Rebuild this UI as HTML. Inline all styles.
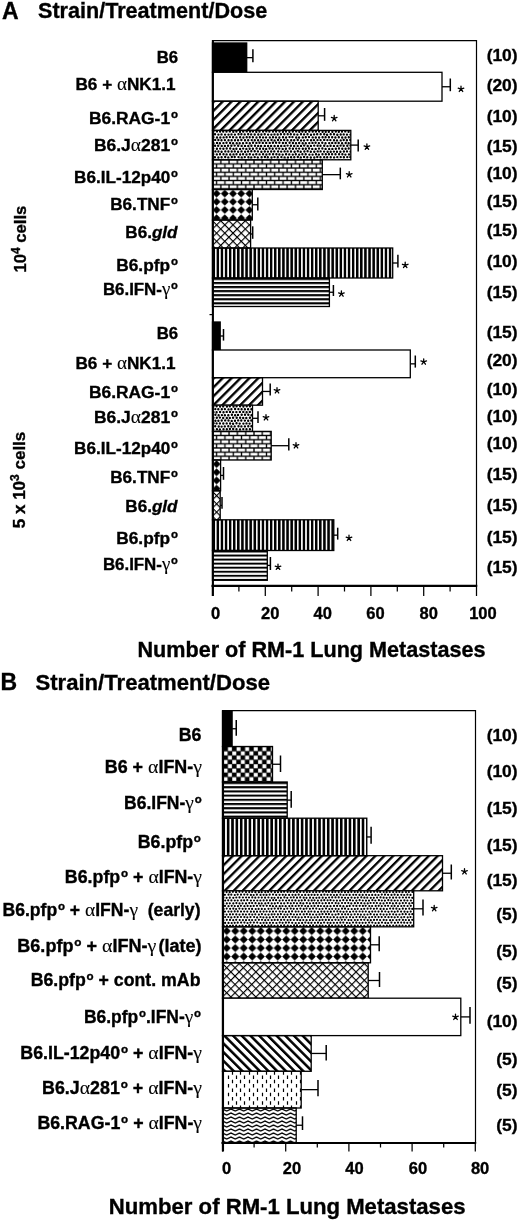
<!DOCTYPE html>
<html><head><meta charset="utf-8"><style>
html,body{margin:0;padding:0;background:#fff;}
svg{display:block;will-change:transform;}
text{font-family:"Liberation Sans",sans-serif;font-weight:bold;fill:#000;stroke:#000;stroke-width:0.35px;}
.lab{font-size:17.4px;}
.t{font-size:16.5px;}
.big{font-size:23px;}
.ttl{font-size:21.6px;}
.xl{font-size:20.2px;}
.sup{font-size:11.5px;}
.gr{font-family:"Liberation Serif",serif;font-weight:normal;font-size:19.5px;stroke-width:0.1px;}
</style></head><body>
<svg width="520" height="1220" viewBox="0 0 520 1220">
<defs><pattern id="p1" patternUnits="userSpaceOnUse" width="6.3" height="6.3" patternTransform="translate(212.50,101.20) rotate(45)"><rect width="2.35" height="6.3" fill="#000"/></pattern><clipPath id="c3"><rect x="212.5" y="130.4" width="138.30" height="29.40"/></clipPath><pattern id="p4" patternUnits="userSpaceOnUse" x="212.50" y="159.80" width="8.3" height="8.3"><rect width="8.3" height="8.3" fill="#000"/><rect x="0.65" y="0.65" width="7.0" height="2.8" fill="#fff"/><rect x="-3.5" y="4.8" width="7.0" height="2.8" fill="#fff"/><rect x="4.8" y="4.8" width="7.0" height="2.8" fill="#fff"/></pattern><pattern id="p5" patternUnits="userSpaceOnUse" x="212.50" y="189.50" width="8.2" height="8.2"><polygon points="4.1,0.15 8.049999999999999,4.1 4.1,8.049999999999999 0.15,4.1" fill="#000"/></pattern><pattern id="p6" patternUnits="userSpaceOnUse" width="5.8" height="5.8" patternTransform="translate(212.50,220.00) rotate(45)"><rect width="1.15" height="5.8" fill="#000"/><rect width="5.8" height="1.15" fill="#000"/></pattern><pattern id="p7" patternUnits="userSpaceOnUse" x="212.50" y="0" width="4.1" height="10"><rect width="2.5" height="10" fill="#000"/></pattern><pattern id="p8" patternUnits="userSpaceOnUse" x="0" y="278.00" width="10" height="4.05"><rect width="10" height="2.0" fill="#000"/></pattern><pattern id="p9" patternUnits="userSpaceOnUse" width="6.3" height="6.3" patternTransform="translate(212.50,377.70) rotate(45)"><rect width="2.35" height="6.3" fill="#000"/></pattern><clipPath id="c11"><rect x="212.5" y="405.2" width="40.00" height="26.20"/></clipPath><pattern id="p12" patternUnits="userSpaceOnUse" x="212.50" y="431.40" width="8.3" height="8.3"><rect width="8.3" height="8.3" fill="#000"/><rect x="0.65" y="0.65" width="7.0" height="2.8" fill="#fff"/><rect x="-3.5" y="4.8" width="7.0" height="2.8" fill="#fff"/><rect x="4.8" y="4.8" width="7.0" height="2.8" fill="#fff"/></pattern><pattern id="p13" patternUnits="userSpaceOnUse" x="212.50" y="460.00" width="8.2" height="8.2"><polygon points="4.1,0.15 8.049999999999999,4.1 4.1,8.049999999999999 0.15,4.1" fill="#000"/></pattern><pattern id="p14" patternUnits="userSpaceOnUse" width="5.8" height="5.8" patternTransform="translate(212.50,490.80) rotate(45)"><rect width="1.15" height="5.8" fill="#000"/><rect width="5.8" height="1.15" fill="#000"/></pattern><pattern id="p15" patternUnits="userSpaceOnUse" x="212.50" y="0" width="4.1" height="10"><rect width="2.5" height="10" fill="#000"/></pattern><pattern id="p16" patternUnits="userSpaceOnUse" x="0" y="550.50" width="10" height="4.05"><rect width="10" height="2.0" fill="#000"/></pattern><pattern id="p17" patternUnits="userSpaceOnUse" x="223.50" y="746.90" width="8.6" height="8.6"><rect width="8.6" height="8.6" fill="#000"/><rect x="4.47" y="0.17" width="3.95" height="3.95" fill="#fff"/><rect x="0.17" y="4.47" width="3.95" height="3.95" fill="#fff"/></pattern><pattern id="p18" patternUnits="userSpaceOnUse" x="0" y="782.00" width="10" height="4.2"><rect width="10" height="2.05" fill="#000"/></pattern><pattern id="p19" patternUnits="userSpaceOnUse" x="222.50" y="0" width="4.35" height="10"><rect width="2.6" height="10" fill="#000"/></pattern><pattern id="p20" patternUnits="userSpaceOnUse" width="6.3" height="6.3" patternTransform="translate(222.50,855.70) rotate(45)"><rect width="2.3" height="6.3" fill="#000"/></pattern><clipPath id="c22"><rect x="222.5" y="890.8" width="191.20" height="36.00"/></clipPath><pattern id="p23" patternUnits="userSpaceOnUse" x="222.50" y="926.80" width="8.5" height="8.5"><polygon points="4.25,0.15 8.35,4.25 4.25,8.35 0.15,4.25" fill="#000"/></pattern><pattern id="p24" patternUnits="userSpaceOnUse" width="5.9" height="5.9" patternTransform="translate(222.50,962.80) rotate(45)"><rect width="1.15" height="5.9" fill="#000"/><rect width="5.9" height="1.15" fill="#000"/></pattern><pattern id="p25" patternUnits="userSpaceOnUse" width="6.15" height="6.15" patternTransform="translate(222.50,1035.60) rotate(-45)"><rect width="2.5" height="6.15" fill="#000"/></pattern><clipPath id="c27"><rect x="222.5" y="1071.3" width="78.70" height="36.70"/></clipPath><pattern id="p28" patternUnits="userSpaceOnUse" x="222.50" y="1108.00" width="8.5" height="4.0"><polyline points="-2.125,3.0 0,1.0 4.25,3.0 8.5,1.0 10.625,2.0" fill="none" stroke="#000" stroke-width="1.3"/></pattern></defs>
<rect width="520" height="1220" fill="#fff"/>
<polyline points="212.5,40.6 476.5,40.6 476.5,585.7" fill="none" stroke="#000" stroke-width="1.2"/>
<rect x="212.5" y="43" width="34.20" height="29.30" fill="#000"/>
<rect x="212.5" y="43" width="34.20" height="29.30" fill="none" stroke="#000" stroke-width="1.3"/>
<line x1="246.7" y1="57.65" x2="252.9" y2="57.65" stroke="#000" stroke-width="1.3"/>
<line x1="252.9" y1="49.2" x2="252.9" y2="62.3" stroke="#000" stroke-width="1.5"/>
<rect x="212.5" y="72.3" width="229.50" height="28.90" fill="#fff"/>
<rect x="212.5" y="72.3" width="229.50" height="28.90" fill="none" stroke="#000" stroke-width="1.3"/>
<line x1="442" y1="86.75" x2="450.3" y2="86.75" stroke="#000" stroke-width="1.3"/>
<line x1="450.3" y1="78.5" x2="450.3" y2="91.2" stroke="#000" stroke-width="1.5"/>
<path d="M461.00,89.10L461.00,86.15M461.00,89.10L463.81,88.19M461.00,89.10L462.73,91.49M461.00,89.10L459.27,91.49M461.00,89.10L458.19,88.19" stroke="#000" stroke-width="1.3" stroke-linecap="round" fill="none"/>
<rect x="212.5" y="101.2" width="105.70" height="29.20" fill="url(#p1)"/>
<rect x="212.5" y="101.2" width="105.70" height="29.20" fill="none" stroke="#000" stroke-width="1.3"/>
<line x1="318.2" y1="115.80" x2="324.6" y2="115.80" stroke="#000" stroke-width="1.3"/>
<line x1="324.6" y1="108" x2="324.6" y2="120.8" stroke="#000" stroke-width="1.5"/>
<path d="M334.20,118.40L334.20,115.45M334.20,118.40L337.01,117.49M334.20,118.40L335.93,120.79M334.20,118.40L332.47,120.79M334.20,118.40L331.39,117.49" stroke="#000" stroke-width="1.3" stroke-linecap="round" fill="none"/>
<rect x="212.5" y="130.4" width="138.30" height="29.40" fill="#fff"/>
<path clip-path="url(#c3)" d="M213.4,131.4h0M216.9,131.4h0M220.1,131.5h0M223.2,131.6h0M226.5,131.6h0M229.8,131.4h0M233.3,131.8h0M236.4,131.5h0M240.0,131.8h0M243.2,131.5h0M246.7,131.4h0M250.0,131.5h0M252.9,131.4h0M256.3,131.8h0M259.5,131.6h0M263.1,131.5h0M266.3,131.4h0M269.4,131.5h0M273.0,131.6h0M276.1,131.6h0M279.5,131.5h0M282.9,131.7h0M286.0,131.6h0M289.4,131.8h0M292.8,131.5h0M296.2,131.4h0M299.3,131.7h0M302.4,131.6h0M305.7,131.7h0M309.3,131.6h0M312.7,131.5h0M315.9,131.6h0M319.1,131.6h0M322.6,131.8h0M325.7,131.7h0M328.8,131.7h0M332.4,131.8h0M335.8,131.5h0M338.8,131.7h0M342.0,131.6h0M345.3,131.4h0M348.6,131.7h0M215.0,134.3h0M218.4,134.6h0M221.5,134.4h0M225.1,134.6h0M228.5,134.6h0M231.5,134.4h0M234.9,134.6h0M238.5,134.3h0M241.4,134.3h0M244.7,134.4h0M248.2,134.3h0M251.2,134.4h0M254.7,134.5h0M258.3,134.5h0M261.4,134.5h0M264.7,134.2h0M268.1,134.6h0M271.4,134.6h0M274.5,134.4h0M277.7,134.5h0M280.9,134.2h0M284.3,134.3h0M287.7,134.2h0M290.8,134.3h0M294.2,134.4h0M297.4,134.6h0M301.0,134.3h0M304.1,134.4h0M307.5,134.3h0M311.0,134.7h0M314.1,134.4h0M317.2,134.3h0M320.7,134.3h0M324.2,134.3h0M327.1,134.7h0M330.7,134.3h0M334.0,134.2h0M337.3,134.7h0M340.7,134.5h0M343.7,134.4h0M347.0,134.6h0M350.5,134.6h0M213.4,137.2h0M217.0,137.5h0M220.3,137.5h0M223.6,137.4h0M226.6,137.3h0M229.9,137.1h0M233.1,137.2h0M236.5,137.4h0M240.1,137.3h0M243.4,137.5h0M246.7,137.2h0M249.7,137.2h0M252.9,137.2h0M256.5,137.5h0M259.9,137.3h0M263.1,137.4h0M266.1,137.4h0M269.8,137.4h0M273.0,137.3h0M276.0,137.4h0M279.4,137.5h0M283.0,137.2h0M286.1,137.5h0M289.5,137.1h0M292.5,137.1h0M296.2,137.5h0M299.1,137.5h0M302.8,137.4h0M305.8,137.3h0M309.0,137.1h0M312.7,137.4h0M315.8,137.5h0M319.1,137.5h0M322.6,137.2h0M325.6,137.2h0M328.9,137.3h0M332.2,137.3h0M335.4,137.5h0M338.8,137.3h0M342.2,137.5h0M345.5,137.5h0M348.8,137.3h0M215.2,139.9h0M218.4,140.0h0M221.5,140.3h0M224.9,140.1h0M228.5,140.2h0M231.6,140.2h0M235.0,140.3h0M238.1,140.2h0M241.4,140.0h0M245.0,140.2h0M248.2,140.3h0M251.7,140.1h0M254.8,140.2h0M258.1,140.2h0M261.3,140.2h0M264.6,140.4h0M268.0,140.3h0M271.5,140.0h0M274.6,140.4h0M278.0,140.0h0M281.0,140.1h0M284.2,140.0h0M287.5,140.2h0M291.2,140.3h0M294.2,140.3h0M297.7,140.0h0M301.1,140.4h0M304.1,140.4h0M307.5,140.1h0M311.1,140.3h0M314.0,140.1h0M317.5,140.1h0M320.6,140.1h0M324.2,139.9h0M327.4,140.1h0M330.4,140.1h0M334.0,140.2h0M337.0,140.4h0M340.7,140.4h0M343.7,140.0h0M346.9,140.3h0M350.3,140.0h0M213.5,143.2h0M217.0,142.9h0M219.9,143.2h0M223.4,143.1h0M226.5,142.8h0M230.1,143.0h0M233.1,143.2h0M236.7,143.2h0M239.7,143.2h0M243.0,143.2h0M246.5,142.9h0M249.8,143.2h0M253.0,142.8h0M256.4,142.9h0M259.5,142.8h0M262.8,142.9h0M266.2,142.9h0M269.7,142.9h0M272.9,142.8h0M276.1,142.8h0M279.4,142.8h0M282.9,143.0h0M285.9,143.0h0M289.6,142.8h0M292.9,143.0h0M296.0,143.2h0M299.2,143.0h0M302.7,143.2h0M305.8,143.2h0M309.3,143.1h0M312.5,142.9h0M315.6,142.8h0M318.9,143.1h0M322.3,142.8h0M325.5,143.2h0M329.2,143.1h0M332.2,142.9h0M335.5,143.0h0M338.7,143.0h0M342.1,143.2h0M345.7,143.0h0M348.7,143.2h0M215.1,145.8h0M218.2,145.8h0M221.7,145.9h0M224.9,145.9h0M228.1,145.7h0M231.4,145.8h0M234.7,145.6h0M238.2,145.7h0M241.6,145.9h0M245.0,145.9h0M248.3,146.0h0M251.4,145.8h0M255.0,145.7h0M258.2,145.9h0M261.1,146.0h0M264.8,145.9h0M268.1,146.0h0M271.1,145.9h0M274.6,146.0h0M278.0,146.0h0M281.2,146.0h0M284.5,145.9h0M287.6,145.6h0M290.9,145.8h0M294.2,146.0h0M297.7,145.9h0M301.0,145.9h0M304.2,145.6h0M307.7,146.0h0M310.9,145.9h0M314.2,145.6h0M317.6,145.7h0M320.5,145.7h0M324.2,145.7h0M327.5,146.1h0M330.6,145.8h0M333.9,145.9h0M337.4,145.9h0M340.6,145.6h0M343.7,145.7h0M347.3,145.8h0M350.5,145.6h0M213.3,148.6h0M216.9,148.8h0M220.2,148.6h0M223.4,148.7h0M226.7,148.5h0M230.2,148.5h0M233.5,148.9h0M236.4,148.7h0M240.1,148.9h0M243.2,148.6h0M246.4,148.9h0M249.7,148.7h0M252.9,148.7h0M256.6,148.5h0M259.9,148.7h0M263.2,148.8h0M266.2,148.9h0M269.6,148.5h0M272.7,148.7h0M276.2,148.6h0M279.3,148.6h0M282.7,148.9h0M285.9,148.8h0M289.6,148.5h0M292.9,148.8h0M296.2,148.6h0M299.2,148.6h0M302.8,148.7h0M305.8,148.7h0M309.1,148.5h0M312.3,148.9h0M315.7,148.9h0M319.0,148.6h0M322.4,148.5h0M325.6,148.9h0M329.2,148.9h0M332.4,148.9h0M335.8,148.7h0M339.0,148.5h0M342.3,148.7h0M345.6,148.8h0M348.7,148.5h0M215.4,151.4h0M218.4,151.5h0M221.6,151.7h0M225.3,151.4h0M228.4,151.5h0M231.7,151.5h0M234.8,151.4h0M238.1,151.8h0M241.5,151.4h0M245.1,151.8h0M248.1,151.4h0M251.3,151.3h0M254.7,151.3h0M257.9,151.4h0M261.4,151.7h0M264.8,151.5h0M267.9,151.6h0M271.2,151.5h0M274.3,151.4h0M278.1,151.4h0M281.2,151.6h0M284.6,151.4h0M287.6,151.4h0M291.0,151.5h0M294.6,151.7h0M297.8,151.3h0M300.7,151.7h0M304.4,151.5h0M307.6,151.3h0M310.8,151.8h0M314.3,151.7h0M317.7,151.4h0M320.6,151.4h0M324.1,151.6h0M327.6,151.7h0M330.7,151.7h0M333.9,151.6h0M337.0,151.7h0M340.4,151.8h0M343.9,151.5h0M347.0,151.4h0M350.5,151.6h0M213.3,154.2h0M216.8,154.4h0M220.0,154.3h0M223.5,154.2h0M226.6,154.4h0M230.2,154.5h0M233.5,154.4h0M236.5,154.3h0M240.1,154.5h0M243.1,154.2h0M246.5,154.5h0M249.8,154.3h0M253.2,154.6h0M256.3,154.2h0M259.6,154.4h0M263.1,154.2h0M266.4,154.5h0M269.6,154.3h0M273.1,154.3h0M276.4,154.3h0M279.4,154.5h0M282.7,154.6h0M286.1,154.2h0M289.3,154.4h0M292.8,154.6h0M295.8,154.3h0M299.2,154.6h0M302.4,154.2h0M305.7,154.3h0M309.4,154.6h0M312.6,154.6h0M316.0,154.3h0M318.9,154.6h0M322.5,154.2h0M325.8,154.3h0M328.9,154.3h0M332.1,154.2h0M335.5,154.3h0M339.1,154.2h0M342.4,154.3h0M345.4,154.6h0M349.0,154.4h0M214.9,157.2h0M218.4,157.5h0M221.6,157.2h0M225.2,157.0h0M228.3,157.4h0M231.8,157.0h0M234.7,157.0h0M238.5,157.1h0M241.7,157.4h0M244.8,157.1h0M248.4,157.3h0M251.3,157.4h0M254.7,157.1h0M257.8,157.4h0M261.6,157.3h0M264.9,157.0h0M267.8,157.2h0M271.5,157.5h0M274.5,157.1h0M277.8,157.2h0M281.4,157.1h0M284.6,157.4h0M287.9,157.4h0M291.1,157.2h0M294.3,157.2h0M297.8,157.0h0M300.8,157.4h0M304.1,157.0h0M307.3,157.3h0M310.8,157.5h0M314.3,157.5h0M317.3,157.0h0M320.5,157.2h0M324.2,157.2h0M327.2,157.2h0M330.7,157.3h0M334.1,157.4h0M337.3,157.1h0M340.7,157.1h0M343.9,157.2h0M347.3,157.1h0M350.3,157.1h0M213.3,160.3h0M216.8,160.0h0M220.0,160.3h0M223.4,160.0h0M226.9,160.2h0M230.2,159.9h0M233.3,160.3h0M236.8,160.3h0M239.7,160.0h0M243.0,159.9h0M246.7,160.1h0M250.0,160.0h0M253.3,160.1h0M256.3,160.2h0M259.9,159.9h0M263.0,160.2h0M266.2,160.0h0M269.4,160.0h0M272.8,160.1h0M276.3,160.0h0M279.3,160.0h0M282.9,159.9h0M286.0,160.0h0M289.5,160.1h0M292.5,159.9h0M295.9,160.1h0M299.4,159.9h0M302.4,160.2h0M305.9,160.0h0M309.1,160.3h0M312.4,160.1h0M315.7,160.1h0M319.3,160.3h0M322.3,159.9h0M325.8,160.0h0M328.8,160.3h0M332.3,160.3h0M335.6,160.3h0M338.9,159.9h0M342.0,160.1h0M345.6,160.3h0M348.6,160.2h0" stroke="#000" stroke-width="2.4" stroke-linecap="round" fill="none"/>
<rect x="212.5" y="130.4" width="138.30" height="29.40" fill="none" stroke="#000" stroke-width="1.3"/>
<line x1="350.8" y1="145.10" x2="358.2" y2="145.10" stroke="#000" stroke-width="1.3"/>
<line x1="358.2" y1="139.6" x2="358.2" y2="151.6" stroke="#000" stroke-width="1.5"/>
<path d="M366.90,146.90L366.90,143.95M366.90,146.90L369.71,145.99M366.90,146.90L368.63,149.29M366.90,146.90L365.17,149.29M366.90,146.90L364.09,145.99" stroke="#000" stroke-width="1.3" stroke-linecap="round" fill="none"/>
<rect x="212.5" y="159.8" width="109.80" height="29.70" fill="url(#p4)"/>
<rect x="212.5" y="159.8" width="109.80" height="29.70" fill="none" stroke="#000" stroke-width="1.3"/>
<line x1="322.3" y1="174.65" x2="340.3" y2="174.65" stroke="#000" stroke-width="1.3"/>
<line x1="340.3" y1="167.6" x2="340.3" y2="179.3" stroke="#000" stroke-width="1.5"/>
<path d="M349.20,174.60L349.20,171.65M349.20,174.60L352.01,173.69M349.20,174.60L350.93,176.99M349.20,174.60L347.47,176.99M349.20,174.60L346.39,173.69" stroke="#000" stroke-width="1.3" stroke-linecap="round" fill="none"/>
<rect x="212.5" y="189.5" width="39.80" height="30.50" fill="url(#p5)"/>
<rect x="212.5" y="189.5" width="39.80" height="30.50" fill="none" stroke="#000" stroke-width="1.3"/>
<line x1="252.3" y1="204.75" x2="257.8" y2="204.75" stroke="#000" stroke-width="1.3"/>
<line x1="257.8" y1="197.5" x2="257.8" y2="210.5" stroke="#000" stroke-width="1.5"/>
<rect x="212.5" y="220" width="38.10" height="28.00" fill="url(#p6)"/>
<rect x="212.5" y="220" width="38.10" height="28.00" fill="none" stroke="#000" stroke-width="1.3"/>
<line x1="250.6" y1="234.00" x2="252.7" y2="234.00" stroke="#000" stroke-width="1.3"/>
<line x1="252.7" y1="226.3" x2="252.7" y2="238.8" stroke="#000" stroke-width="1.5"/>
<rect x="212.5" y="248" width="180.20" height="30.00" fill="url(#p7)"/>
<rect x="212.5" y="248" width="180.20" height="30.00" fill="none" stroke="#000" stroke-width="1.3"/>
<line x1="392.7" y1="263.00" x2="397.9" y2="263.00" stroke="#000" stroke-width="1.3"/>
<line x1="397.9" y1="254.8" x2="397.9" y2="267.5" stroke="#000" stroke-width="1.5"/>
<path d="M405.20,265.20L405.20,262.25M405.20,265.20L408.01,264.29M405.20,265.20L406.93,267.59M405.20,265.20L403.47,267.59M405.20,265.20L402.39,264.29" stroke="#000" stroke-width="1.3" stroke-linecap="round" fill="none"/>
<rect x="212.5" y="278" width="116.90" height="28.50" fill="url(#p8)"/>
<rect x="212.5" y="278" width="116.90" height="28.50" fill="none" stroke="#000" stroke-width="1.3"/>
<line x1="329.4" y1="292.25" x2="333.4" y2="292.25" stroke="#000" stroke-width="1.3"/>
<line x1="333.4" y1="285" x2="333.4" y2="296" stroke="#000" stroke-width="1.5"/>
<path d="M341.40,293.80L341.40,290.85M341.40,293.80L344.21,292.89M341.40,293.80L343.13,296.19M341.40,293.80L339.67,296.19M341.40,293.80L338.59,292.89" stroke="#000" stroke-width="1.3" stroke-linecap="round" fill="none"/>
<rect x="212.5" y="322" width="7.70" height="28.00" fill="#000"/>
<rect x="212.5" y="322" width="7.70" height="28.00" fill="none" stroke="#000" stroke-width="1.3"/>
<line x1="220.2" y1="336.00" x2="223.5" y2="336.00" stroke="#000" stroke-width="1.3"/>
<line x1="223.5" y1="329" x2="223.5" y2="340.6" stroke="#000" stroke-width="1.5"/>
<rect x="212.5" y="350" width="197.80" height="27.70" fill="#fff"/>
<rect x="212.5" y="350" width="197.80" height="27.70" fill="none" stroke="#000" stroke-width="1.3"/>
<line x1="410.3" y1="363.85" x2="415.3" y2="363.85" stroke="#000" stroke-width="1.3"/>
<line x1="415.3" y1="355.5" x2="415.3" y2="367.6" stroke="#000" stroke-width="1.5"/>
<path d="M423.70,361.80L423.70,358.85M423.70,361.80L426.51,360.89M423.70,361.80L425.43,364.19M423.70,361.80L421.97,364.19M423.70,361.80L420.89,360.89" stroke="#000" stroke-width="1.3" stroke-linecap="round" fill="none"/>
<rect x="212.5" y="377.7" width="50.00" height="27.50" fill="url(#p9)"/>
<rect x="212.5" y="377.7" width="50.00" height="27.50" fill="none" stroke="#000" stroke-width="1.3"/>
<line x1="262.5" y1="391.45" x2="270.2" y2="391.45" stroke="#000" stroke-width="1.3"/>
<line x1="270.2" y1="383.5" x2="270.2" y2="395.4" stroke="#000" stroke-width="1.5"/>
<path d="M277.00,390.60L277.00,387.65M277.00,390.60L279.81,389.69M277.00,390.60L278.73,392.99M277.00,390.60L275.27,392.99M277.00,390.60L274.19,389.69" stroke="#000" stroke-width="1.3" stroke-linecap="round" fill="none"/>
<rect x="212.5" y="405.2" width="40.00" height="26.20" fill="#fff"/>
<path clip-path="url(#c11)" d="M213.4,406.4h0M216.6,406.3h0M220.1,406.6h0M223.2,406.4h0M226.9,406.6h0M229.8,406.2h0M233.5,406.6h0M236.6,406.2h0M240.1,406.3h0M243.4,406.5h0M246.7,406.2h0M249.9,406.3h0M253.1,406.6h0M215.3,409.1h0M218.3,409.2h0M221.8,409.2h0M224.9,409.1h0M228.5,409.4h0M231.4,409.3h0M235.1,409.0h0M238.4,409.1h0M241.6,409.3h0M244.9,409.2h0M248.1,409.3h0M251.4,409.3h0M213.5,412.1h0M216.6,412.2h0M220.1,412.0h0M223.5,412.2h0M226.7,411.9h0M230.0,411.9h0M233.1,412.1h0M236.4,412.1h0M239.9,411.9h0M243.3,411.9h0M246.6,412.2h0M249.8,411.9h0M253.1,412.0h0M215.4,414.8h0M218.6,415.2h0M221.9,415.1h0M224.9,415.2h0M228.3,415.2h0M231.9,414.8h0M235.1,415.2h0M238.0,414.9h0M241.7,414.8h0M245.0,414.8h0M248.3,414.8h0M251.5,415.2h0M213.4,417.7h0M216.8,417.7h0M219.9,417.6h0M223.2,418.0h0M226.8,418.0h0M229.8,417.9h0M233.1,417.8h0M236.7,417.7h0M240.1,417.8h0M243.2,418.0h0M246.3,418.0h0M249.9,417.7h0M253.2,417.7h0M215.4,420.7h0M218.4,420.8h0M221.7,420.5h0M225.2,420.4h0M228.5,420.5h0M231.7,420.9h0M235.0,420.7h0M238.2,420.4h0M241.3,420.5h0M244.9,420.6h0M248.2,420.8h0M251.3,420.5h0M213.6,423.3h0M216.6,423.4h0M219.9,423.4h0M223.3,423.5h0M226.7,423.4h0M230.1,423.5h0M233.1,423.7h0M236.5,423.3h0M239.7,423.6h0M243.4,423.6h0M246.5,423.4h0M249.6,423.6h0M253.1,423.4h0M215.2,426.3h0M218.7,426.5h0M221.6,426.6h0M224.8,426.4h0M228.3,426.2h0M231.4,426.5h0M234.7,426.4h0M238.5,426.2h0M241.4,426.4h0M244.9,426.4h0M248.3,426.2h0M251.4,426.3h0M213.3,429.4h0M216.9,429.3h0M219.9,429.4h0M223.5,429.2h0M226.8,429.2h0M229.9,429.0h0M233.2,429.0h0M236.5,429.3h0M240.0,429.4h0M243.3,429.1h0M246.5,429.2h0M249.9,429.2h0M253.0,429.3h0M215.4,431.9h0M218.6,431.8h0M221.6,431.9h0M225.2,432.3h0M228.5,432.0h0M231.8,432.0h0M234.8,432.3h0M238.3,432.1h0M241.6,432.3h0M244.8,432.2h0M248.2,432.2h0M251.4,432.2h0" stroke="#000" stroke-width="2.4" stroke-linecap="round" fill="none"/>
<rect x="212.5" y="405.2" width="40.00" height="26.20" fill="none" stroke="#000" stroke-width="1.3"/>
<line x1="252.5" y1="418.30" x2="258" y2="418.30" stroke="#000" stroke-width="1.3"/>
<line x1="258" y1="411.3" x2="258" y2="422.9" stroke="#000" stroke-width="1.5"/>
<path d="M266.00,417.60L266.00,414.65M266.00,417.60L268.81,416.69M266.00,417.60L267.73,419.99M266.00,417.60L264.27,419.99M266.00,417.60L263.19,416.69" stroke="#000" stroke-width="1.3" stroke-linecap="round" fill="none"/>
<rect x="212.5" y="431.4" width="58.70" height="28.60" fill="url(#p12)"/>
<rect x="212.5" y="431.4" width="58.70" height="28.60" fill="none" stroke="#000" stroke-width="1.3"/>
<line x1="271.2" y1="445.70" x2="288.8" y2="445.70" stroke="#000" stroke-width="1.3"/>
<line x1="288.8" y1="438.3" x2="288.8" y2="450.4" stroke="#000" stroke-width="1.5"/>
<path d="M296.00,445.60L296.00,442.65M296.00,445.60L298.81,444.69M296.00,445.60L297.73,447.99M296.00,445.60L294.27,447.99M296.00,445.60L293.19,444.69" stroke="#000" stroke-width="1.3" stroke-linecap="round" fill="none"/>
<rect x="212.5" y="460" width="8.10" height="30.80" fill="url(#p13)"/>
<rect x="212.5" y="460" width="8.10" height="30.80" fill="none" stroke="#000" stroke-width="1.3"/>
<line x1="220.6" y1="475.40" x2="223.5" y2="475.40" stroke="#000" stroke-width="1.3"/>
<line x1="223.5" y1="467" x2="223.5" y2="479.8" stroke="#000" stroke-width="1.5"/>
<rect x="212.5" y="490.8" width="7.70" height="29.00" fill="url(#p14)"/>
<rect x="212.5" y="490.8" width="7.70" height="29.00" fill="none" stroke="#000" stroke-width="1.3"/>
<line x1="220.2" y1="505.30" x2="222" y2="505.30" stroke="#000" stroke-width="1.3"/>
<line x1="222" y1="497" x2="222" y2="508.7" stroke="#000" stroke-width="1.5"/>
<rect x="212.5" y="519.8" width="121.30" height="30.70" fill="url(#p15)"/>
<rect x="212.5" y="519.8" width="121.30" height="30.70" fill="none" stroke="#000" stroke-width="1.3"/>
<line x1="333.8" y1="535.15" x2="337.7" y2="535.15" stroke="#000" stroke-width="1.3"/>
<line x1="337.7" y1="527.7" x2="337.7" y2="539.6" stroke="#000" stroke-width="1.5"/>
<path d="M349.00,538.10L349.00,535.15M349.00,538.10L351.81,537.19M349.00,538.10L350.73,540.49M349.00,538.10L347.27,540.49M349.00,538.10L346.19,537.19" stroke="#000" stroke-width="1.3" stroke-linecap="round" fill="none"/>
<rect x="212.5" y="550.5" width="54.80" height="29.80" fill="url(#p16)"/>
<rect x="212.5" y="550.5" width="54.80" height="29.80" fill="none" stroke="#000" stroke-width="1.3"/>
<line x1="267.3" y1="565.40" x2="270.4" y2="565.40" stroke="#000" stroke-width="1.3"/>
<line x1="270.4" y1="557" x2="270.4" y2="570" stroke="#000" stroke-width="1.5"/>
<path d="M278.00,567.00L278.00,564.05M278.00,567.00L280.81,566.09M278.00,567.00L279.73,569.39M278.00,567.00L276.27,569.39M278.00,567.00L275.19,566.09" stroke="#000" stroke-width="1.3" stroke-linecap="round" fill="none"/>
<line x1="212.9" y1="40" x2="212.9" y2="596" stroke="#000" stroke-width="2.1"/>
<line x1="211.5" y1="585.8" x2="477.2" y2="585.8" stroke="#000" stroke-width="2.2"/>
<line x1="212.50" y1="585" x2="212.50" y2="596" stroke="#000" stroke-width="1.25"/>
<line x1="238.90" y1="585" x2="238.90" y2="591.5" stroke="#000" stroke-width="1.25"/>
<line x1="265.30" y1="585" x2="265.30" y2="596" stroke="#000" stroke-width="1.25"/>
<line x1="291.70" y1="585" x2="291.70" y2="591.5" stroke="#000" stroke-width="1.25"/>
<line x1="318.10" y1="585" x2="318.10" y2="596" stroke="#000" stroke-width="1.25"/>
<line x1="344.50" y1="585" x2="344.50" y2="591.5" stroke="#000" stroke-width="1.25"/>
<line x1="370.90" y1="585" x2="370.90" y2="596" stroke="#000" stroke-width="1.25"/>
<line x1="397.30" y1="585" x2="397.30" y2="591.5" stroke="#000" stroke-width="1.25"/>
<line x1="423.70" y1="585" x2="423.70" y2="596" stroke="#000" stroke-width="1.25"/>
<line x1="450.10" y1="585" x2="450.10" y2="591.5" stroke="#000" stroke-width="1.25"/>
<line x1="476.50" y1="585" x2="476.50" y2="596" stroke="#000" stroke-width="1.25"/>
<line x1="209.5" y1="314.6" x2="212.5" y2="314.6" stroke="#000" stroke-width="1.2"/>
<text x="215.7" y="619.3" text-anchor="middle" class="t">0</text>
<text x="270.3" y="619.3" text-anchor="middle" class="t">20</text>
<text x="322.7" y="619.3" text-anchor="middle" class="t">40</text>
<text x="375.5" y="619.3" text-anchor="middle" class="t">60</text>
<text x="428.8" y="619.3" text-anchor="middle" class="t">80</text>
<text x="482.9" y="619.3" text-anchor="middle" class="t">100</text>
<polyline points="222.5,710.7 475.5,710.7 475.5,1143" fill="none" stroke="#000" stroke-width="1.2"/>
<rect x="222.5" y="711" width="9.60" height="35.50" fill="#000"/>
<rect x="222.5" y="711" width="9.60" height="35.50" fill="none" stroke="#000" stroke-width="1.3"/>
<line x1="232.1" y1="728.75" x2="236.25" y2="728.75" stroke="#000" stroke-width="1.3"/>
<line x1="236.25" y1="720" x2="236.25" y2="735.75" stroke="#000" stroke-width="1.5"/>
<rect x="222.5" y="746.5" width="50.00" height="35.50" fill="url(#p17)"/>
<rect x="222.5" y="746.5" width="50.00" height="35.50" fill="none" stroke="#000" stroke-width="1.3"/>
<line x1="272.5" y1="764.25" x2="280.5" y2="764.25" stroke="#000" stroke-width="1.3"/>
<line x1="280.5" y1="755.5" x2="280.5" y2="772" stroke="#000" stroke-width="1.5"/>
<rect x="222.5" y="782" width="64.70" height="36.20" fill="url(#p18)"/>
<rect x="222.5" y="782" width="64.70" height="36.20" fill="none" stroke="#000" stroke-width="1.3"/>
<line x1="287.2" y1="800.10" x2="291.2" y2="800.10" stroke="#000" stroke-width="1.3"/>
<line x1="291.2" y1="790.9" x2="291.2" y2="807.8" stroke="#000" stroke-width="1.5"/>
<rect x="222.5" y="818.2" width="144.30" height="37.50" fill="url(#p19)"/>
<rect x="222.5" y="818.2" width="144.30" height="37.50" fill="none" stroke="#000" stroke-width="1.3"/>
<line x1="366.8" y1="836.95" x2="371.1" y2="836.95" stroke="#000" stroke-width="1.3"/>
<line x1="371.1" y1="826.8" x2="371.1" y2="843.8" stroke="#000" stroke-width="1.5"/>
<rect x="222.5" y="855.7" width="220.00" height="35.10" fill="url(#p20)"/>
<rect x="222.5" y="855.7" width="220.00" height="35.10" fill="none" stroke="#000" stroke-width="1.3"/>
<line x1="442.5" y1="873.25" x2="451.3" y2="873.25" stroke="#000" stroke-width="1.3"/>
<line x1="451.3" y1="864.5" x2="451.3" y2="879.5" stroke="#000" stroke-width="1.5"/>
<path d="M464.50,871.60L464.50,868.65M464.50,871.60L467.31,870.69M464.50,871.60L466.23,873.99M464.50,871.60L462.77,873.99M464.50,871.60L461.69,870.69" stroke="#000" stroke-width="1.3" stroke-linecap="round" fill="none"/>
<rect x="222.5" y="890.8" width="191.20" height="36.00" fill="#fff"/>
<path clip-path="url(#c22)" d="M223.5,891.9h0M226.6,892.1h0M229.7,892.2h0M232.9,891.8h0M236.1,892.2h0M239.4,891.8h0M242.5,891.8h0M246.0,892.1h0M249.2,892.1h0M252.1,892.0h0M255.4,892.2h0M258.9,892.2h0M261.7,892.2h0M265.3,892.2h0M268.1,891.9h0M271.3,891.8h0M274.9,892.2h0M278.0,892.2h0M281.2,891.9h0M284.1,891.8h0M287.6,891.9h0M290.6,892.0h0M293.7,891.9h0M297.0,892.1h0M300.2,891.9h0M303.7,892.0h0M306.9,892.1h0M309.7,892.0h0M313.1,892.1h0M316.2,892.1h0M319.5,891.9h0M322.9,891.8h0M326.1,891.8h0M328.9,891.9h0M332.4,892.2h0M335.3,892.0h0M338.7,892.1h0M341.7,892.0h0M345.0,892.2h0M348.2,892.2h0M351.4,891.9h0M354.8,892.0h0M357.7,892.1h0M360.9,892.1h0M364.4,892.1h0M367.6,891.9h0M370.7,891.9h0M374.1,891.8h0M377.3,891.8h0M380.2,891.9h0M383.7,892.0h0M386.6,892.2h0M389.8,892.0h0M393.1,892.1h0M396.4,892.1h0M399.4,891.9h0M402.5,892.2h0M406.0,892.1h0M408.9,892.0h0M412.4,892.0h0M224.9,894.8h0M228.5,894.7h0M231.3,894.7h0M234.8,895.0h0M237.7,894.6h0M241.0,894.7h0M244.3,894.6h0M247.4,894.6h0M250.9,894.9h0M253.7,895.0h0M256.9,894.7h0M260.5,894.9h0M263.6,894.8h0M266.5,894.9h0M269.7,894.7h0M273.0,894.6h0M276.2,894.9h0M279.6,894.8h0M282.8,894.8h0M285.7,894.9h0M289.1,894.9h0M292.5,894.8h0M295.5,894.9h0M298.7,894.7h0M302.0,895.0h0M305.2,894.9h0M308.5,894.9h0M311.6,894.8h0M314.6,894.9h0M317.7,894.8h0M321.2,894.9h0M324.4,894.7h0M327.5,894.8h0M330.8,894.8h0M334.0,895.0h0M336.9,894.9h0M340.4,894.7h0M343.5,895.0h0M346.5,894.8h0M349.7,894.9h0M353.3,894.8h0M356.1,894.8h0M359.5,894.9h0M362.7,894.9h0M366.1,894.8h0M369.1,895.0h0M372.2,894.9h0M375.4,894.9h0M378.5,895.0h0M381.8,894.6h0M385.0,894.7h0M388.1,894.8h0M391.5,894.9h0M394.6,894.7h0M397.8,894.9h0M401.3,894.8h0M404.2,895.0h0M407.4,894.7h0M410.5,894.9h0M414.1,894.9h0M223.5,897.6h0M226.6,897.8h0M229.8,897.7h0M233.3,897.8h0M236.3,897.5h0M239.5,897.4h0M242.9,897.5h0M246.1,897.5h0M249.0,897.5h0M252.3,897.4h0M255.3,897.7h0M258.6,897.5h0M261.8,897.6h0M265.1,897.7h0M268.4,897.5h0M271.7,897.8h0M274.5,897.8h0M278.1,897.7h0M280.9,897.8h0M284.4,897.4h0M287.3,897.8h0M290.8,897.5h0M293.7,897.4h0M297.0,897.7h0M300.2,897.4h0M303.7,897.7h0M306.5,897.8h0M310.0,897.7h0M313.2,897.8h0M316.4,897.8h0M319.3,897.7h0M322.7,897.7h0M325.9,897.8h0M329.1,897.5h0M332.2,897.4h0M335.5,897.4h0M338.7,897.4h0M341.9,897.6h0M345.1,897.8h0M348.1,897.8h0M351.5,897.6h0M354.8,897.8h0M357.8,897.6h0M361.3,897.4h0M364.4,897.7h0M367.3,897.7h0M370.8,897.8h0M373.8,897.8h0M377.1,897.6h0M380.5,897.4h0M383.6,897.7h0M386.6,897.8h0M389.8,897.6h0M393.1,897.7h0M396.2,897.6h0M399.5,897.6h0M402.9,897.5h0M406.1,897.6h0M409.1,897.5h0M412.3,897.8h0M225.2,900.5h0M228.2,900.3h0M231.4,900.4h0M234.8,900.5h0M237.7,900.5h0M241.3,900.4h0M244.1,900.3h0M247.3,900.2h0M250.9,900.5h0M254.0,900.5h0M257.3,900.5h0M260.4,900.5h0M263.6,900.4h0M266.8,900.3h0M270.0,900.4h0M273.2,900.2h0M276.1,900.2h0M279.6,900.6h0M282.8,900.3h0M286.1,900.5h0M289.1,900.3h0M292.2,900.4h0M295.4,900.4h0M298.8,900.6h0M301.7,900.4h0M304.9,900.2h0M308.5,900.4h0M311.7,900.4h0M314.5,900.3h0M317.9,900.6h0M321.3,900.4h0M324.3,900.2h0M327.6,900.3h0M330.5,900.2h0M333.7,900.5h0M336.9,900.6h0M340.1,900.6h0M343.3,900.2h0M346.8,900.3h0M350.0,900.2h0M352.9,900.5h0M356.4,900.6h0M359.6,900.2h0M362.8,900.5h0M365.9,900.6h0M369.0,900.6h0M372.4,900.2h0M375.3,900.5h0M378.9,900.2h0M381.8,900.5h0M384.9,900.6h0M388.3,900.2h0M391.4,900.4h0M394.7,900.5h0M397.7,900.5h0M401.0,900.5h0M404.4,900.4h0M407.4,900.5h0M410.9,900.5h0M413.9,900.3h0M223.3,903.4h0M226.8,903.4h0M229.8,903.3h0M233.3,903.4h0M236.4,903.1h0M239.5,903.4h0M242.6,903.3h0M246.0,903.4h0M249.3,903.1h0M252.1,903.1h0M255.5,903.2h0M258.9,903.4h0M261.7,903.4h0M265.3,903.4h0M268.3,903.1h0M271.7,903.4h0M274.8,903.4h0M277.8,903.0h0M281.1,903.3h0M284.2,903.3h0M287.7,903.1h0M290.8,903.3h0M293.9,903.1h0M297.0,903.3h0M300.4,903.2h0M303.3,903.4h0M306.8,903.1h0M309.9,903.4h0M313.3,903.2h0M316.3,903.2h0M319.3,903.0h0M322.5,903.3h0M325.8,903.2h0M329.1,903.2h0M332.1,903.0h0M335.7,903.1h0M338.5,903.3h0M342.0,903.0h0M345.1,903.1h0M348.3,903.0h0M351.3,903.4h0M354.9,903.2h0M357.9,903.1h0M361.2,903.2h0M364.5,903.3h0M367.7,903.4h0M370.6,903.0h0M373.8,903.0h0M376.9,903.0h0M380.3,903.4h0M383.5,903.4h0M386.9,903.0h0M389.9,903.1h0M392.9,903.4h0M396.2,903.2h0M399.6,903.4h0M402.8,903.1h0M405.9,903.0h0M409.3,903.4h0M412.2,903.0h0M225.0,905.9h0M228.5,906.2h0M231.7,905.8h0M234.8,906.1h0M238.0,906.2h0M240.9,905.8h0M244.4,906.2h0M247.6,905.9h0M250.7,906.1h0M253.7,905.9h0M257.0,905.8h0M260.3,905.8h0M263.4,905.8h0M266.8,905.8h0M270.0,905.8h0M272.9,906.2h0M276.2,906.2h0M279.7,906.2h0M282.5,906.0h0M285.7,906.2h0M289.3,906.1h0M292.3,905.9h0M295.7,906.0h0M298.8,905.8h0M301.8,905.8h0M305.2,906.0h0M308.1,906.2h0M311.4,906.0h0M314.5,905.9h0M318.1,905.9h0M320.9,906.0h0M324.2,906.2h0M327.3,906.2h0M330.5,906.2h0M334.0,905.9h0M337.1,905.9h0M340.2,905.9h0M343.4,906.2h0M346.9,906.2h0M349.7,905.9h0M353.3,905.8h0M356.4,905.9h0M359.7,905.8h0M362.9,905.9h0M365.7,905.8h0M369.3,906.0h0M372.1,906.0h0M375.7,905.9h0M378.7,905.8h0M381.7,906.1h0M385.2,905.8h0M388.1,905.8h0M391.6,906.0h0M394.6,905.9h0M398.0,906.1h0M401.3,906.0h0M404.2,905.8h0M407.6,906.0h0M410.8,905.8h0M414.1,905.9h0M223.7,909.0h0M226.7,908.6h0M230.1,908.8h0M233.3,908.7h0M236.1,909.0h0M239.4,908.6h0M242.6,908.8h0M245.7,908.8h0M249.1,908.8h0M252.1,908.9h0M255.7,909.0h0M258.6,908.9h0M261.8,908.9h0M264.9,909.0h0M268.5,908.8h0M271.5,908.8h0M274.7,908.6h0M278.1,908.7h0M280.9,908.6h0M284.2,909.0h0M287.3,908.6h0M290.8,908.6h0M293.7,908.8h0M297.1,908.8h0M300.4,908.6h0M303.7,908.9h0M306.5,908.6h0M309.9,908.8h0M313.0,908.6h0M316.3,908.6h0M319.5,909.0h0M322.5,908.8h0M326.0,908.6h0M329.3,909.0h0M332.2,908.8h0M335.7,908.8h0M338.6,909.0h0M342.0,908.7h0M345.0,908.7h0M348.3,909.0h0M351.7,909.0h0M354.9,909.0h0M357.7,908.8h0M361.3,909.0h0M364.2,908.8h0M367.6,908.7h0M370.7,908.6h0M373.9,908.8h0M376.9,908.6h0M380.5,908.9h0M383.7,908.9h0M386.9,909.0h0M390.1,908.6h0M393.2,908.7h0M396.4,908.7h0M399.5,909.0h0M402.8,908.7h0M405.9,908.8h0M409.3,908.7h0M412.2,908.9h0M224.9,911.6h0M228.5,911.6h0M231.4,911.6h0M234.7,911.4h0M237.7,911.4h0M241.0,911.6h0M244.2,911.5h0M247.3,911.6h0M250.9,911.7h0M253.9,911.7h0M257.0,911.7h0M260.3,911.6h0M263.6,911.6h0M266.6,911.5h0M269.8,911.6h0M273.0,911.6h0M276.1,911.5h0M279.7,911.5h0M282.7,911.6h0M285.8,911.8h0M289.0,911.7h0M292.1,911.4h0M295.7,911.6h0M298.5,911.5h0M301.9,911.7h0M304.9,911.5h0M308.5,911.7h0M311.3,911.5h0M314.6,911.7h0M318.0,911.8h0M321.3,911.6h0M324.4,911.7h0M327.6,911.6h0M330.8,911.7h0M334.1,911.4h0M337.3,911.4h0M340.4,911.6h0M343.5,911.8h0M346.7,911.6h0M350.0,911.8h0M353.2,911.5h0M356.3,911.6h0M359.6,911.5h0M362.6,911.6h0M365.8,911.5h0M369.2,911.8h0M372.3,911.6h0M375.3,911.5h0M378.5,911.6h0M381.9,911.4h0M385.3,911.5h0M388.5,911.8h0M391.7,911.5h0M394.7,911.8h0M397.7,911.4h0M401.1,911.6h0M404.5,911.7h0M407.5,911.8h0M410.7,911.6h0M414.0,911.5h0M223.4,914.4h0M226.6,914.6h0M230.0,914.4h0M232.9,914.3h0M236.3,914.4h0M239.5,914.6h0M242.9,914.4h0M245.9,914.5h0M249.3,914.3h0M252.3,914.6h0M255.3,914.3h0M258.9,914.6h0M261.9,914.2h0M265.3,914.5h0M268.5,914.6h0M271.7,914.4h0M274.5,914.3h0M277.9,914.4h0M280.9,914.2h0M284.4,914.5h0M287.4,914.6h0M290.8,914.2h0M293.9,914.5h0M297.0,914.5h0M300.1,914.3h0M303.7,914.4h0M306.8,914.2h0M309.9,914.4h0M313.0,914.5h0M316.3,914.6h0M319.5,914.4h0M322.5,914.2h0M326.0,914.2h0M328.9,914.2h0M332.3,914.6h0M335.6,914.6h0M338.5,914.2h0M342.0,914.3h0M345.2,914.3h0M348.1,914.3h0M351.3,914.6h0M354.7,914.3h0M357.9,914.3h0M360.9,914.6h0M364.3,914.6h0M367.5,914.5h0M370.6,914.2h0M374.1,914.6h0M377.0,914.6h0M380.5,914.3h0M383.6,914.6h0M386.7,914.6h0M389.8,914.3h0M393.2,914.3h0M396.2,914.6h0M399.5,914.5h0M402.6,914.2h0M405.8,914.2h0M409.3,914.3h0M412.3,914.2h0M225.1,917.1h0M228.3,917.0h0M231.3,917.4h0M234.6,917.1h0M237.7,917.1h0M241.0,917.0h0M244.4,917.1h0M247.3,917.3h0M250.5,917.1h0M254.1,917.0h0M257.1,917.4h0M260.5,917.0h0M263.4,917.3h0M266.6,917.4h0M269.8,917.4h0M273.1,917.1h0M276.3,917.0h0M279.6,917.1h0M282.9,917.2h0M285.8,917.1h0M289.2,917.1h0M292.5,917.0h0M295.5,917.2h0M298.6,917.3h0M301.8,917.3h0M305.1,917.1h0M308.2,917.0h0M311.3,917.4h0M314.6,917.3h0M317.7,917.2h0M321.0,917.2h0M324.2,917.0h0M327.4,917.1h0M330.5,917.3h0M333.8,917.2h0M337.3,917.3h0M340.5,917.4h0M343.3,917.1h0M346.5,917.3h0M350.0,917.1h0M353.1,917.3h0M356.4,917.1h0M359.7,917.1h0M362.8,917.0h0M365.7,917.4h0M369.2,917.3h0M372.1,917.0h0M375.3,917.0h0M378.6,917.1h0M381.7,917.1h0M385.2,917.0h0M388.5,917.2h0M391.6,917.1h0M394.7,917.3h0M397.8,917.0h0M401.3,917.3h0M404.2,917.0h0M407.7,917.3h0M410.5,917.1h0M413.7,917.3h0M223.4,920.2h0M226.8,919.8h0M230.0,919.9h0M233.2,920.2h0M236.2,919.8h0M239.7,920.0h0M242.9,920.1h0M246.0,920.2h0M249.2,920.0h0M252.1,920.1h0M255.5,920.0h0M258.9,919.8h0M262.0,919.8h0M265.2,920.2h0M268.2,920.0h0M271.7,920.1h0M274.7,919.9h0M277.7,919.9h0M281.1,919.9h0M284.2,919.8h0M287.6,920.1h0M290.6,919.9h0M293.9,920.0h0M297.3,919.9h0M300.2,920.2h0M303.3,920.0h0M306.6,920.2h0M309.9,920.1h0M312.9,920.1h0M316.3,920.0h0M319.6,920.2h0M322.5,919.9h0M325.8,919.9h0M328.9,919.9h0M332.1,920.1h0M335.5,919.8h0M338.6,920.0h0M341.8,919.8h0M344.9,919.8h0M348.5,920.1h0M351.3,920.1h0M354.9,920.0h0M357.7,920.0h0M361.1,919.8h0M364.3,919.8h0M367.7,920.1h0M370.8,920.2h0M374.0,919.9h0M377.0,919.8h0M380.1,920.1h0M383.7,919.9h0M386.5,920.1h0M390.1,920.2h0M392.9,920.1h0M396.5,920.1h0M399.4,919.8h0M402.9,919.9h0M405.8,920.0h0M409.0,920.2h0M412.2,919.8h0M225.1,922.9h0M228.5,922.9h0M231.7,923.0h0M234.7,922.8h0M237.7,922.7h0M241.1,922.6h0M244.4,922.6h0M247.5,923.0h0M250.5,922.6h0M253.9,922.6h0M257.2,922.6h0M260.5,923.0h0M263.6,922.8h0M266.6,922.9h0M269.9,922.8h0M273.0,922.8h0M276.4,923.0h0M279.7,922.6h0M282.6,922.8h0M285.9,922.7h0M288.9,922.6h0M292.2,922.8h0M295.7,923.0h0M298.9,923.0h0M302.1,922.9h0M305.3,922.6h0M308.4,922.9h0M311.4,922.8h0M314.9,922.8h0M318.0,922.7h0M321.0,923.0h0M324.1,922.6h0M327.6,922.8h0M330.5,922.9h0M333.8,922.8h0M337.1,922.8h0M340.3,922.7h0M343.3,922.6h0M346.9,922.8h0M349.7,923.0h0M353.0,922.6h0M356.3,922.7h0M359.5,922.8h0M362.6,922.8h0M365.7,922.8h0M369.1,922.6h0M372.3,922.6h0M375.5,923.0h0M378.7,922.9h0M382.0,922.6h0M385.3,922.9h0M388.1,923.0h0M391.4,922.6h0M394.9,922.8h0M398.0,922.6h0M401.2,922.6h0M404.2,922.7h0M407.3,922.8h0M410.6,922.7h0M414.0,922.8h0M223.7,925.7h0M226.9,925.6h0M230.1,925.8h0M232.9,925.7h0M236.2,925.7h0M239.6,925.8h0M242.5,925.5h0M246.0,925.8h0M249.2,925.4h0M252.4,925.4h0M255.5,925.8h0M258.5,925.8h0M262.0,925.5h0M264.9,925.6h0M268.5,925.6h0M271.3,925.4h0M274.5,925.8h0M277.7,925.6h0M281.0,925.7h0M284.2,925.4h0M287.7,925.6h0M290.8,925.8h0M294.1,925.4h0M297.0,925.4h0M300.3,925.8h0M303.7,925.4h0M306.5,925.8h0M310.0,925.5h0M313.1,925.4h0M316.5,925.5h0M319.7,925.7h0M322.5,925.5h0M325.8,925.8h0M329.1,925.4h0M332.1,925.5h0M335.5,925.6h0M338.6,925.5h0M341.7,925.6h0M345.0,925.4h0M348.3,925.8h0M351.3,925.4h0M354.8,925.5h0M357.8,925.6h0M361.0,925.6h0M364.3,925.8h0M367.7,925.4h0M370.7,925.7h0M374.1,925.7h0M377.2,925.7h0M380.2,925.5h0M383.6,925.8h0M386.9,925.7h0M389.8,925.7h0M393.2,925.6h0M396.4,925.5h0M399.5,925.6h0M402.5,925.5h0M405.8,925.8h0M409.1,925.5h0M412.2,925.5h0" stroke="#000" stroke-width="2.2" stroke-linecap="round" fill="none"/>
<rect x="222.5" y="890.8" width="191.20" height="36.00" fill="none" stroke="#000" stroke-width="1.3"/>
<line x1="413.7" y1="908.80" x2="423" y2="908.80" stroke="#000" stroke-width="1.3"/>
<line x1="423" y1="899.5" x2="423" y2="915.5" stroke="#000" stroke-width="1.5"/>
<path d="M434.20,908.40L434.20,905.45M434.20,908.40L437.01,907.49M434.20,908.40L435.93,910.79M434.20,908.40L432.47,910.79M434.20,908.40L431.39,907.49" stroke="#000" stroke-width="1.3" stroke-linecap="round" fill="none"/>
<rect x="222.5" y="926.8" width="148.00" height="36.00" fill="url(#p23)"/>
<rect x="222.5" y="926.8" width="148.00" height="36.00" fill="none" stroke="#000" stroke-width="1.3"/>
<line x1="370.5" y1="944.80" x2="379.2" y2="944.80" stroke="#000" stroke-width="1.3"/>
<line x1="379.2" y1="936.3" x2="379.2" y2="951.3" stroke="#000" stroke-width="1.5"/>
<rect x="222.5" y="962.8" width="145.70" height="35.40" fill="url(#p24)"/>
<rect x="222.5" y="962.8" width="145.70" height="35.40" fill="none" stroke="#000" stroke-width="1.3"/>
<line x1="368.2" y1="980.50" x2="379.5" y2="980.50" stroke="#000" stroke-width="1.3"/>
<line x1="379.5" y1="972" x2="379.5" y2="987" stroke="#000" stroke-width="1.5"/>
<rect x="222.5" y="998.2" width="238.30" height="37.40" fill="#fff"/>
<rect x="222.5" y="998.2" width="238.30" height="37.40" fill="none" stroke="#000" stroke-width="1.3"/>
<line x1="460.8" y1="1016.90" x2="470" y2="1016.90" stroke="#000" stroke-width="1.3"/>
<line x1="470" y1="1007" x2="470" y2="1023.8" stroke="#000" stroke-width="1.5"/>
<path d="M455.50,1017.10L455.50,1014.15M455.50,1017.10L458.31,1016.19M455.50,1017.10L457.23,1019.49M455.50,1017.10L453.77,1019.49M455.50,1017.10L452.69,1016.19" stroke="#000" stroke-width="1.3" stroke-linecap="round" fill="none"/>
<rect x="222.5" y="1035.6" width="88.70" height="35.70" fill="url(#p25)"/>
<rect x="222.5" y="1035.6" width="88.70" height="35.70" fill="none" stroke="#000" stroke-width="1.3"/>
<line x1="311.2" y1="1053.45" x2="326.2" y2="1053.45" stroke="#000" stroke-width="1.3"/>
<line x1="326.2" y1="1045" x2="326.2" y2="1060.5" stroke="#000" stroke-width="1.5"/>
<rect x="222.5" y="1071.3" width="78.70" height="36.70" fill="#fff"/>
<path clip-path="url(#c27)" d="M227.9,1049.8h1.2v3.5h-1.2zM227.9,1058.3h1.2v3.5h-1.2zM227.9,1066.9h1.2v3.5h-1.2zM227.9,1075.5h1.2v3.5h-1.2zM227.9,1084.1h1.2v3.5h-1.2zM227.9,1092.7h1.2v3.5h-1.2zM227.9,1101.3h1.2v3.5h-1.2zM235.9,1049.8h1.2v3.5h-1.2zM235.9,1058.3h1.2v3.5h-1.2zM235.9,1066.9h1.2v3.5h-1.2zM235.9,1075.5h1.2v3.5h-1.2zM235.9,1084.1h1.2v3.5h-1.2zM235.9,1092.7h1.2v3.5h-1.2zM235.9,1101.3h1.2v3.5h-1.2zM243.9,1049.8h1.2v3.5h-1.2zM243.9,1058.3h1.2v3.5h-1.2zM243.9,1066.9h1.2v3.5h-1.2zM243.9,1075.5h1.2v3.5h-1.2zM243.9,1084.1h1.2v3.5h-1.2zM243.9,1092.7h1.2v3.5h-1.2zM243.9,1101.3h1.2v3.5h-1.2zM252.9,1049.8h1.2v3.5h-1.2zM252.9,1058.3h1.2v3.5h-1.2zM252.9,1066.9h1.2v3.5h-1.2zM252.9,1075.5h1.2v3.5h-1.2zM252.9,1084.1h1.2v3.5h-1.2zM252.9,1092.7h1.2v3.5h-1.2zM252.9,1101.3h1.2v3.5h-1.2zM261.9,1049.8h1.2v3.5h-1.2zM261.9,1058.3h1.2v3.5h-1.2zM261.9,1066.9h1.2v3.5h-1.2zM261.9,1075.5h1.2v3.5h-1.2zM261.9,1084.1h1.2v3.5h-1.2zM261.9,1092.7h1.2v3.5h-1.2zM261.9,1101.3h1.2v3.5h-1.2zM269.9,1049.8h1.2v3.5h-1.2zM269.9,1058.3h1.2v3.5h-1.2zM269.9,1066.9h1.2v3.5h-1.2zM269.9,1075.5h1.2v3.5h-1.2zM269.9,1084.1h1.2v3.5h-1.2zM269.9,1092.7h1.2v3.5h-1.2zM269.9,1101.3h1.2v3.5h-1.2zM277.9,1049.8h1.2v3.5h-1.2zM277.9,1058.3h1.2v3.5h-1.2zM277.9,1066.9h1.2v3.5h-1.2zM277.9,1075.5h1.2v3.5h-1.2zM277.9,1084.1h1.2v3.5h-1.2zM277.9,1092.7h1.2v3.5h-1.2zM277.9,1101.3h1.2v3.5h-1.2zM286.9,1049.8h1.2v3.5h-1.2zM286.9,1058.3h1.2v3.5h-1.2zM286.9,1066.9h1.2v3.5h-1.2zM286.9,1075.5h1.2v3.5h-1.2zM286.9,1084.1h1.2v3.5h-1.2zM286.9,1092.7h1.2v3.5h-1.2zM286.9,1101.3h1.2v3.5h-1.2zM295.9,1049.8h1.2v3.5h-1.2zM295.9,1058.3h1.2v3.5h-1.2zM295.9,1066.9h1.2v3.5h-1.2zM295.9,1075.5h1.2v3.5h-1.2zM295.9,1084.1h1.2v3.5h-1.2zM295.9,1092.7h1.2v3.5h-1.2zM295.9,1101.3h1.2v3.5h-1.2zM231.9,1045.5h1.2v3.5h-1.2zM231.9,1054.0h1.2v3.5h-1.2zM231.9,1062.6h1.2v3.5h-1.2zM231.9,1071.2h1.2v3.5h-1.2zM231.9,1079.8h1.2v3.5h-1.2zM231.9,1088.4h1.2v3.5h-1.2zM231.9,1097.0h1.2v3.5h-1.2zM231.9,1105.6h1.2v3.5h-1.2zM239.9,1045.5h1.2v3.5h-1.2zM239.9,1054.0h1.2v3.5h-1.2zM239.9,1062.6h1.2v3.5h-1.2zM239.9,1071.2h1.2v3.5h-1.2zM239.9,1079.8h1.2v3.5h-1.2zM239.9,1088.4h1.2v3.5h-1.2zM239.9,1097.0h1.2v3.5h-1.2zM239.9,1105.6h1.2v3.5h-1.2zM248.9,1045.5h1.2v3.5h-1.2zM248.9,1054.0h1.2v3.5h-1.2zM248.9,1062.6h1.2v3.5h-1.2zM248.9,1071.2h1.2v3.5h-1.2zM248.9,1079.8h1.2v3.5h-1.2zM248.9,1088.4h1.2v3.5h-1.2zM248.9,1097.0h1.2v3.5h-1.2zM248.9,1105.6h1.2v3.5h-1.2zM256.9,1045.5h1.2v3.5h-1.2zM256.9,1054.0h1.2v3.5h-1.2zM256.9,1062.6h1.2v3.5h-1.2zM256.9,1071.2h1.2v3.5h-1.2zM256.9,1079.8h1.2v3.5h-1.2zM256.9,1088.4h1.2v3.5h-1.2zM256.9,1097.0h1.2v3.5h-1.2zM256.9,1105.6h1.2v3.5h-1.2zM265.9,1045.5h1.2v3.5h-1.2zM265.9,1054.0h1.2v3.5h-1.2zM265.9,1062.6h1.2v3.5h-1.2zM265.9,1071.2h1.2v3.5h-1.2zM265.9,1079.8h1.2v3.5h-1.2zM265.9,1088.4h1.2v3.5h-1.2zM265.9,1097.0h1.2v3.5h-1.2zM265.9,1105.6h1.2v3.5h-1.2zM273.9,1045.5h1.2v3.5h-1.2zM273.9,1054.0h1.2v3.5h-1.2zM273.9,1062.6h1.2v3.5h-1.2zM273.9,1071.2h1.2v3.5h-1.2zM273.9,1079.8h1.2v3.5h-1.2zM273.9,1088.4h1.2v3.5h-1.2zM273.9,1097.0h1.2v3.5h-1.2zM273.9,1105.6h1.2v3.5h-1.2zM282.9,1045.5h1.2v3.5h-1.2zM282.9,1054.0h1.2v3.5h-1.2zM282.9,1062.6h1.2v3.5h-1.2zM282.9,1071.2h1.2v3.5h-1.2zM282.9,1079.8h1.2v3.5h-1.2zM282.9,1088.4h1.2v3.5h-1.2zM282.9,1097.0h1.2v3.5h-1.2zM282.9,1105.6h1.2v3.5h-1.2zM290.9,1045.5h1.2v3.5h-1.2zM290.9,1054.0h1.2v3.5h-1.2zM290.9,1062.6h1.2v3.5h-1.2zM290.9,1071.2h1.2v3.5h-1.2zM290.9,1079.8h1.2v3.5h-1.2zM290.9,1088.4h1.2v3.5h-1.2zM290.9,1097.0h1.2v3.5h-1.2zM290.9,1105.6h1.2v3.5h-1.2zM299.9,1045.5h1.2v3.5h-1.2zM299.9,1054.0h1.2v3.5h-1.2zM299.9,1062.6h1.2v3.5h-1.2zM299.9,1071.2h1.2v3.5h-1.2zM299.9,1079.8h1.2v3.5h-1.2zM299.9,1088.4h1.2v3.5h-1.2zM299.9,1097.0h1.2v3.5h-1.2zM299.9,1105.6h1.2v3.5h-1.2z" fill="#000"/>
<rect x="222.5" y="1071.3" width="78.70" height="36.70" fill="none" stroke="#000" stroke-width="1.3"/>
<line x1="301.2" y1="1089.65" x2="318" y2="1089.65" stroke="#000" stroke-width="1.3"/>
<line x1="318" y1="1080" x2="318" y2="1096.3" stroke="#000" stroke-width="1.5"/>
<rect x="222.5" y="1108" width="73.70" height="34.50" fill="url(#p28)"/>
<rect x="222.5" y="1108" width="73.70" height="34.50" fill="none" stroke="#000" stroke-width="1.3"/>
<line x1="296.2" y1="1125.25" x2="302.5" y2="1125.25" stroke="#000" stroke-width="1.3"/>
<line x1="302.5" y1="1116.3" x2="302.5" y2="1130" stroke="#000" stroke-width="1.5"/>
<line x1="223.0" y1="710" x2="223.0" y2="1151.5" stroke="#000" stroke-width="2.1"/>
<line x1="221.5" y1="1143" x2="476.2" y2="1143" stroke="#000" stroke-width="2.2"/>
<line x1="222.50" y1="1142" x2="222.50" y2="1151.5" stroke="#000" stroke-width="1.25"/>
<line x1="254.10" y1="1142" x2="254.10" y2="1147.5" stroke="#000" stroke-width="1.25"/>
<line x1="285.70" y1="1142" x2="285.70" y2="1151.5" stroke="#000" stroke-width="1.25"/>
<line x1="317.30" y1="1142" x2="317.30" y2="1147.5" stroke="#000" stroke-width="1.25"/>
<line x1="348.90" y1="1142" x2="348.90" y2="1151.5" stroke="#000" stroke-width="1.25"/>
<line x1="380.50" y1="1142" x2="380.50" y2="1147.5" stroke="#000" stroke-width="1.25"/>
<line x1="412.10" y1="1142" x2="412.10" y2="1151.5" stroke="#000" stroke-width="1.25"/>
<line x1="443.70" y1="1142" x2="443.70" y2="1147.5" stroke="#000" stroke-width="1.25"/>
<line x1="475.30" y1="1142" x2="475.30" y2="1151.5" stroke="#000" stroke-width="1.25"/>
<text x="226.5" y="1174.2" text-anchor="middle" class="t">0</text>
<text x="291.9" y="1174.2" text-anchor="middle" class="t">20</text>
<text x="354.5" y="1174.2" text-anchor="middle" class="t">40</text>
<text x="418" y="1174.2" text-anchor="middle" class="t">60</text>
<text x="480.1" y="1174.2" text-anchor="middle" class="t">80</text>
<text x="2" y="18.5" class="big">A</text>
<text x="38" y="17.6" class="ttl">Strain/Treatment/Dose</text>
<text x="0.5" y="690" class="big">B</text>
<text x="35.5" y="690" class="ttl" style="font-size:22.1px">Strain/Treatment/Dose</text>
<text x="137.5" y="656.9" class="xl" style="font-size:21.6px">Number of RM-1 Lung Metastases</text>
<text x="108.8" y="1214.0" class="xl" style="font-size:22.15px">Number of RM-1 Lung Metastases</text>
<text transform="translate(26,272.6) rotate(-90)" style="font-size:16.7px">10<tspan style="font-size:12px" baseline-shift="6">4</tspan> cells</text>
<text transform="translate(25.4,528.2) rotate(-90)" style="font-size:17px">5 x 10<tspan style="font-size:12px" baseline-shift="6">3</tspan> cells</text>
<text transform="translate(178.11,63.49) scale(0.9628,1)" text-anchor="end" style="font-size:17.4px" xml:space="preserve">B6</text>
<text transform="translate(175.60,90.49) scale(0.9861,1)" text-anchor="end" style="font-size:17.4px" xml:space="preserve">B6 + <tspan class="gr">α</tspan>NK1.1</text>
<text transform="translate(177.91,123.89) scale(1.0001,1)" text-anchor="end" style="font-size:17.4px" xml:space="preserve">B6.RAG-1<tspan class="sup" dx="0.8" baseline-shift="5.6">o</tspan></text>
<text transform="translate(177.92,150.79) scale(1.0028,1)" text-anchor="end" style="font-size:17.4px" xml:space="preserve">B6.J<tspan class="gr">α</tspan>281<tspan class="sup" dx="0.8" baseline-shift="5.6">o</tspan></text>
<text transform="translate(177.89,182.79) scale(0.9846,1)" text-anchor="end" style="font-size:17.4px" xml:space="preserve">B6.IL-12p40<tspan class="sup" dx="0.8" baseline-shift="5.6">o</tspan></text>
<text transform="translate(177.89,209.99) scale(0.9852,1)" text-anchor="end" style="font-size:17.4px" xml:space="preserve">B6.TNF<tspan class="sup" dx="0.8" baseline-shift="5.6">o</tspan></text>
<text transform="translate(177.53,237.89) scale(0.9821,1)" text-anchor="end" style="font-size:17.4px" xml:space="preserve">B6.<tspan font-style="italic">gld</tspan></text>
<text transform="translate(177.90,271.19) scale(0.9969,1)" text-anchor="end" style="font-size:17.4px" xml:space="preserve">B6.pfp<tspan class="sup" dx="0.8" baseline-shift="5.6">o</tspan></text>
<text transform="translate(177.89,295.39) scale(0.9710,1)" text-anchor="end" style="font-size:17.4px" xml:space="preserve">B6.IFN-<tspan class="gr">γ</tspan><tspan class="sup" dx="0.8" baseline-shift="5.6">o</tspan></text>
<text transform="translate(178.11,338.99) scale(0.9628,1)" text-anchor="end" style="font-size:17.4px" xml:space="preserve">B6</text>
<text transform="translate(175.60,368.89) scale(0.9861,1)" text-anchor="end" style="font-size:17.4px" xml:space="preserve">B6 + <tspan class="gr">α</tspan>NK1.1</text>
<text transform="translate(177.91,398.09) scale(1.0001,1)" text-anchor="end" style="font-size:17.4px" xml:space="preserve">B6.RAG-1<tspan class="sup" dx="0.8" baseline-shift="5.6">o</tspan></text>
<text transform="translate(177.92,423.49) scale(1.0028,1)" text-anchor="end" style="font-size:17.4px" xml:space="preserve">B6.J<tspan class="gr">α</tspan>281<tspan class="sup" dx="0.8" baseline-shift="5.6">o</tspan></text>
<text transform="translate(177.89,453.89) scale(0.9846,1)" text-anchor="end" style="font-size:17.4px" xml:space="preserve">B6.IL-12p40<tspan class="sup" dx="0.8" baseline-shift="5.6">o</tspan></text>
<text transform="translate(177.89,482.79) scale(0.9852,1)" text-anchor="end" style="font-size:17.4px" xml:space="preserve">B6.TNF<tspan class="sup" dx="0.8" baseline-shift="5.6">o</tspan></text>
<text transform="translate(177.53,512.39) scale(0.9821,1)" text-anchor="end" style="font-size:17.4px" xml:space="preserve">B6.<tspan font-style="italic">gld</tspan></text>
<text transform="translate(177.90,544.39) scale(0.9969,1)" text-anchor="end" style="font-size:17.4px" xml:space="preserve">B6.pfp<tspan class="sup" dx="0.8" baseline-shift="5.6">o</tspan></text>
<text transform="translate(177.89,569.99) scale(0.9710,1)" text-anchor="end" style="font-size:17.4px" xml:space="preserve">B6.IFN-<tspan class="gr">γ</tspan><tspan class="sup" dx="0.8" baseline-shift="5.6">o</tspan></text>
<text transform="translate(201.42,741.25) scale(1.0104,1)" text-anchor="end" style="font-size:17.6px" xml:space="preserve">B6</text>
<text transform="translate(202.00,773.25) scale(1.0175,1)" text-anchor="end" style="font-size:17.6px" xml:space="preserve">B6 + <tspan class="gr">α</tspan>IFN-<tspan class="gr">γ</tspan></text>
<text transform="translate(201.70,809.45) scale(0.9948,1)" text-anchor="end" style="font-size:17.6px" xml:space="preserve">B6.IFN-<tspan class="gr">γ</tspan><tspan class="sup" dx="0.8" baseline-shift="5.6">o</tspan></text>
<text transform="translate(200.91,847.55) scale(1.0100,1)" text-anchor="end" style="font-size:17.6px" xml:space="preserve">B6.pfp<tspan class="sup" dx="0.8" baseline-shift="5.6">o</tspan></text>
<text transform="translate(202.00,882.75) scale(1.0108,1)" text-anchor="end" style="font-size:17.6px" xml:space="preserve">B6.pfp<tspan class="sup" dx="0.8" baseline-shift="5.6">o</tspan> + <tspan class="gr">α</tspan>IFN-<tspan class="gr">γ</tspan></text>
<text transform="translate(200.50,916.25) scale(0.9991,1)" text-anchor="end" style="font-size:17.6px" xml:space="preserve">B6.pfp<tspan class="sup" dx="0.8" baseline-shift="5.6">o</tspan> + <tspan class="gr">α</tspan>IFN-<tspan class="gr">γ</tspan>  (early)</text>
<text transform="translate(201.52,951.65) scale(1.0254,1)" text-anchor="end" style="font-size:17.6px" xml:space="preserve">B6.pfp<tspan class="sup" dx="0.8" baseline-shift="5.6">o</tspan> + <tspan class="gr">α</tspan>IFN-<tspan class="gr">γ</tspan><tspan dx="2">(late)</tspan></text>
<text transform="translate(200.51,986.35) scale(1.0072,1)" text-anchor="end" style="font-size:17.6px" xml:space="preserve">B6.pfp<tspan class="sup" dx="0.8" baseline-shift="5.6">o</tspan> + cont. mAb</text>
<text transform="translate(201.00,1023.15) scale(0.9915,1)" text-anchor="end" style="font-size:17.6px" xml:space="preserve">B6.pfp<tspan class="sup" dx="0.8" baseline-shift="5.6">o</tspan>.IFN-<tspan class="gr">γ</tspan><tspan class="sup" dx="0.8" baseline-shift="5.6">o</tspan></text>
<text transform="translate(202.00,1058.65) scale(1.0114,1)" text-anchor="end" style="font-size:17.6px" xml:space="preserve">B6.IL-12p40<tspan class="sup" dx="0.8" baseline-shift="5.6">o</tspan> + <tspan class="gr">α</tspan>IFN-<tspan class="gr">γ</tspan></text>
<text transform="translate(202.00,1093.55) scale(1.0146,1)" text-anchor="end" style="font-size:17.6px" xml:space="preserve">B6.J<tspan class="gr">α</tspan>281<tspan class="sup" dx="0.8" baseline-shift="5.6">o</tspan> + <tspan class="gr">α</tspan>IFN-<tspan class="gr">γ</tspan></text>
<text transform="translate(202.00,1128.55) scale(1.0102,1)" text-anchor="end" style="font-size:17.6px" xml:space="preserve">B6.RAG-1<tspan class="sup" dx="0.8" baseline-shift="5.6">o</tspan> + <tspan class="gr">α</tspan>IFN-<tspan class="gr">γ</tspan></text>
<text x="517.6" y="60.69" text-anchor="end" class="lab">(10)</text>
<text x="517.6" y="90.99" text-anchor="end" class="lab">(20)</text>
<text x="517.6" y="121.89" text-anchor="end" class="lab">(10)</text>
<text x="517.6" y="152.09" text-anchor="end" class="lab">(15)</text>
<text x="517.6" y="179.29" text-anchor="end" class="lab">(10)</text>
<text x="517.6" y="207.49" text-anchor="end" class="lab">(15)</text>
<text x="517.6" y="235.79" text-anchor="end" class="lab">(15)</text>
<text x="517.6" y="267.29" text-anchor="end" class="lab">(10)</text>
<text x="517.6" y="298.19" text-anchor="end" class="lab">(15)</text>
<text x="517.6" y="337.99" text-anchor="end" class="lab">(15)</text>
<text x="517.6" y="366.09" text-anchor="end" class="lab">(20)</text>
<text x="517.6" y="395.19" text-anchor="end" class="lab">(10)</text>
<text x="517.6" y="422.49" text-anchor="end" class="lab">(10)</text>
<text x="517.6" y="448.59" text-anchor="end" class="lab">(10)</text>
<text x="517.6" y="479.99" text-anchor="end" class="lab">(15)</text>
<text x="517.6" y="511.39" text-anchor="end" class="lab">(15)</text>
<text x="517.6" y="543.29" text-anchor="end" class="lab">(15)</text>
<text x="517.6" y="572.79" text-anchor="end" class="lab">(15)</text>
<text x="517.6" y="741.19" text-anchor="end" class="lab">(10)</text>
<text x="517.6" y="777.29" text-anchor="end" class="lab">(10)</text>
<text x="517.6" y="814.19" text-anchor="end" class="lab">(15)</text>
<text x="517.6" y="850.99" text-anchor="end" class="lab">(15)</text>
<text x="517.6" y="886.29" text-anchor="end" class="lab">(15)</text>
<text x="517.6" y="920.49" text-anchor="end" class="lab">(5)</text>
<text x="517.6" y="957.49" text-anchor="end" class="lab">(5)</text>
<text x="517.6" y="988.99" text-anchor="end" class="lab">(5)</text>
<text x="517.6" y="1026.59" text-anchor="end" class="lab">(10)</text>
<text x="517.6" y="1064.69" text-anchor="end" class="lab">(5)</text>
<text x="517.6" y="1096.39" text-anchor="end" class="lab">(5)</text>
<text x="517.6" y="1131.09" text-anchor="end" class="lab">(5)</text>
</svg>
</body></html>
